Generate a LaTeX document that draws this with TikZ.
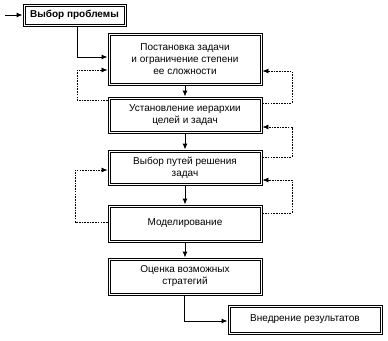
\documentclass[tikz,border=0pt]{standalone}
\usepackage{fontspec}
\setmainfont{Liberation Sans}
\usetikzlibrary{arrows.meta}
\begin{document}
\begin{tikzpicture}[x=1pt,y=-1pt,
  box/.style={draw, line width=0.9pt, align=center,
    font=\fontsize{10}{12}\selectfont, inner sep=0pt},
  inbox/.style={draw, line width=0.9pt},
  flow/.style={line width=1pt, -{Latex[length=6pt,width=5pt]}},
  fb/.style={line width=0.8pt, dash pattern=on 1.6pt off 1.1pt, -{Latex[length=6pt,width=5pt]}}]
\useasboundingbox (0,0) rectangle (388,340);
\node[box, minimum width=103pt, minimum height=22pt, font=\fontsize{10}{12}\selectfont\bfseries] (b1) at (74.5,15) {Выбор проблемы};
\node[box, minimum width=154pt, minimum height=52pt] (b2) at (185,59) {Постановка задачи\\и ограничение степени\\ее сложности};
\node[box, minimum width=154pt, minimum height=36pt] (b3) at (185,115) {Установление иерархии\\целей и задач};
\node[box, minimum width=154pt, minimum height=35pt] (b4) at (185,167.5) {Выбор путей решения\\задач};
\node[box, minimum width=154pt, minimum height=37pt] (b5) at (185,223.5) {Моделирование};
\node[box, minimum width=154pt, minimum height=37pt] (b6) at (185,276.5) {Оценка возможных\\стратегий};
\node[box, minimum width=154pt, minimum height=29pt] (b7) at (305,319.5) {Внедрение результатов};
\foreach \n in {b1,b2,b3,b4,b5,b6,b7}
  \draw[inbox] ([xshift=2.5pt,yshift=-2.5pt]\n.north west) rectangle ([xshift=-2.5pt,yshift=2.5pt]\n.south east);
\coordinate (in) at (5,15);
\draw[flow] (in) -- (b1.west);
\draw[flow] ([xshift=2.5pt]b1.south) |- ([yshift=2pt]b2.west);
\draw[flow] (b2) -- (b3);
\draw[flow] (b3) -- (b4);
\draw[flow] (b4) -- (b5);
\draw[flow] (b5) -- (b6);
\draw[flow] ([xshift=-1pt]b6.south) |- ([yshift=-1.5pt]b7.west);
% feedback
\draw[fb] ([yshift=15pt]b3.west) -| (77,70) -- ([yshift=-11pt]b2.west);
\draw[fb] ([yshift=12pt]b3.east) -| (292,71) -- ([yshift=-12pt]b2.east);
\draw[fb] ([yshift=10.5pt]b4.east) -| (292,127) -- ([yshift=-12pt]b3.east);
\draw[fb] ([yshift=10.5pt]b5.east) -| (292,180) -- ([yshift=-12.5pt]b4.east);
\draw[fb] ([yshift=1.5pt]b5.west) -| (75,170) -- ([yshift=-2.5pt]b4.west);
\end{tikzpicture}
\end{document}
